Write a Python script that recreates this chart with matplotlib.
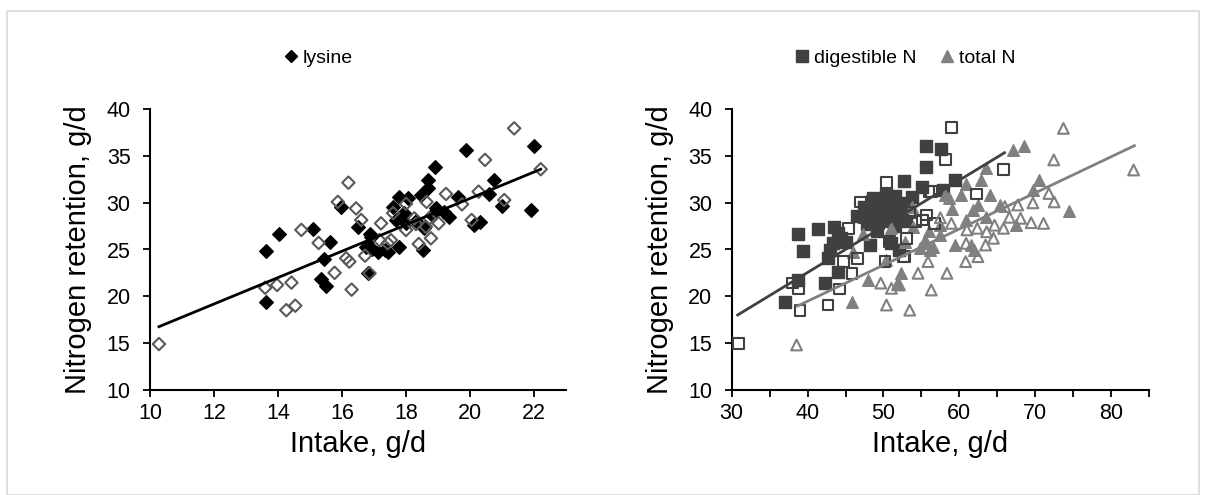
import matplotlib
matplotlib.use("Agg")
import matplotlib.pyplot as plt
from matplotlib.lines import Line2D
from matplotlib.patches import Rectangle

plt.rcParams['font.family'] = ['Liberation Sans', 'DejaVu Sans']

# ---------------- data: left panel (lysine) ----------------
lys_fill_x = [13.64, 14.02, 13.62, 15.09, 15.61, 15.45, 15.33, 15.50, 15.97, 16.50,
              16.86, 16.91, 16.75, 17.12, 17.33, 17.79, 18.52, 18.00, 18.57, 17.58,
              17.79, 18.07, 18.47, 18.68, 18.68, 18.90, 19.87, 22.00, 20.75, 20.60,
              21.00, 21.90, 19.61, 19.35, 18.94, 20.13, 17.95, 16.80, 18.30, 18.80,
              19.20, 17.70, 16.95, 17.45, 20.30]
lys_fill_y = [24.87, 26.70, 19.40, 27.16, 25.80, 23.95, 21.80, 21.10, 29.50, 27.44,
              26.70, 26.30, 25.30, 24.77, 24.95, 25.30, 24.95, 27.80, 27.27, 29.60,
              30.66, 30.50, 30.84, 32.40, 31.55, 33.80, 35.66, 36.10, 32.45, 30.95,
              29.66, 29.23, 30.66, 28.50, 29.40, 27.60, 28.90, 22.50, 28.00, 28.70,
              29.00, 28.20, 25.00, 24.70, 27.90]
lys_open_x = [10.28, 13.60, 13.97, 14.42, 14.26, 14.54, 14.73, 15.27, 15.77, 15.87,
              16.20, 16.44, 16.60, 17.22, 17.60, 18.00, 18.64, 19.25, 19.75, 20.27,
              21.07, 20.05, 21.38, 20.47, 22.21, 16.13, 16.23, 16.72, 16.86, 17.17,
              17.43, 17.53, 18.00, 18.31, 18.73, 19.02, 18.62, 18.40, 18.78, 18.26,
              16.30]
lys_open_y = [14.87, 20.90, 21.20, 21.45, 18.50, 18.98, 27.10, 25.70, 22.50, 30.10,
              32.16, 29.40, 28.16, 27.80, 28.90, 29.90, 30.10, 30.95, 29.84, 31.20,
              30.30, 28.16, 37.98, 34.60, 33.60, 24.06, 23.70, 24.34, 22.45, 26.00,
              25.66, 26.00, 27.09, 27.73, 28.34, 27.80, 27.44, 25.59, 26.20, 28.34,
              20.70]
lys_line_x = [10.28, 22.21]
lys_line_y = [16.73, 33.60]

# ---------------- data: right panel (digestible N / total N) ----------------
dig_fill_x = [55.66, 55.66, 52.67, 55.13, 53.70, 48.63, 51.50, 47.50, 38.68, 41.40,
              43.46, 39.42, 44.47, 43.37, 42.90, 42.70, 44.03, 42.30, 38.77, 37.00,
              48.20, 51.05, 52.10, 50.60, 57.63, 59.40, 57.85, 49.50, 50.00, 50.50,
              51.00, 52.00, 52.50, 49.00, 48.00, 51.50, 53.00, 47.80, 50.30, 53.20,
              49.20, 44.00, 45.00, 46.50]
dig_fill_y = [36.09, 33.80, 32.37, 31.66, 30.66, 30.48, 30.70, 29.60, 26.70, 27.16,
              27.44, 24.87, 26.20, 25.66, 24.95, 24.06, 22.60, 21.40, 21.70, 19.40,
              25.50, 25.66, 24.95, 28.50, 35.73, 32.45, 31.37, 29.00, 30.00, 29.30,
              28.00, 29.50, 28.80, 28.30, 28.90, 27.50, 28.00, 27.70, 30.90, 30.00,
              27.00, 26.80, 25.80, 28.60]
dig_open_x = [50.40, 47.00, 45.35, 46.58, 45.87, 44.25, 42.70, 39.00, 37.97, 38.77,
              30.87, 44.70, 50.20, 52.80, 50.80, 55.66, 56.30, 58.95, 58.20, 65.87,
              62.24, 56.00, 55.13, 56.75, 52.67, 53.00, 47.50, 49.30, 48.50, 51.80,
              54.20, 53.50]
dig_open_y = [32.16, 30.10, 27.27, 24.06, 22.45, 20.77, 19.05, 18.50, 21.40, 20.84,
              14.95, 23.70, 23.70, 24.23, 25.84, 28.70, 31.20, 38.05, 34.66, 33.60,
              30.95, 31.20, 28.16, 27.80, 24.23, 26.20, 28.40, 27.80, 30.20, 29.30,
              28.00, 29.00]
tot_fill_x = [67.05, 68.50, 63.46, 62.90, 60.83, 60.17, 58.70, 58.07, 64.07, 65.30,
              70.47, 69.70, 74.40, 67.50, 61.80, 63.55, 60.90, 57.40, 57.40, 55.43,
              54.78, 56.10, 59.40, 61.60, 62.00, 52.37, 51.80, 51.05, 47.30, 46.00,
              50.40, 52.80, 53.90, 53.70, 48.00, 45.80, 55.43, 56.50, 59.00, 62.50,
              56.00]
tot_fill_y = [35.66, 36.09, 33.70, 32.45, 32.00, 30.84, 30.50, 30.84, 30.84, 29.77,
              32.45, 31.37, 29.16, 27.60, 29.23, 28.50, 28.16, 27.60, 26.55, 26.00,
              25.13, 24.95, 25.48, 25.48, 24.95, 22.45, 21.30, 27.27, 26.70, 24.77,
              23.87, 25.84, 27.44, 29.60, 21.70, 19.40, 25.66, 25.30, 29.30, 29.80,
              27.00]
tot_open_x = [38.55, 50.40, 53.46, 49.64, 51.05, 54.56, 56.30, 55.87, 73.72, 72.45,
              71.80, 72.50, 69.70, 67.70, 71.10, 69.47, 68.07, 66.60, 65.83, 64.64,
              63.60, 64.50, 63.46, 62.37, 58.95, 62.45, 60.83, 60.90, 58.37, 82.97,
              52.10, 61.00, 57.50, 66.00]
tot_open_y = [14.77, 19.05, 18.50, 21.40, 20.84, 22.45, 20.66, 23.70, 37.98, 34.60,
              31.00, 30.10, 30.00, 29.77, 27.80, 27.87, 28.34, 28.45, 27.27, 27.60,
              26.90, 26.20, 25.48, 27.27, 27.80, 24.23, 23.70, 25.66, 22.45, 33.52,
              21.20, 27.10, 28.40, 29.60]
dig_line_x = [30.78, 65.96]
dig_line_y = [17.98, 35.37]
tot_line_x = [38.68, 83.07]
tot_line_y = [18.95, 36.12]

left_xticks = [10, 12, 14, 16, 18, 20, 22]
right_xticks = [30, 35, 40, 45, 50, 55, 60, 65, 70, 75, 80, 85]
right_xlabels = ['30', '', '40', '', '50', '', '60', '', '70', '', '80', '']
yticks = [10, 15, 20, 25, 30, 35, 40]

BLACK = '#000000'
DARK = '#404040'
GRAY = '#808080'
OPEN_D = '#595959'

W, H = 1205, 495
fig = plt.figure(figsize=(W / 100, H / 100), dpi=100)

# outer chart border
fig.patches.append(Rectangle((7 / W, 0), (W - 13) / W, (H - 11) / H,
                             transform=fig.transFigure, fill=False,
                             edgecolor='#d9d9d9', linewidth=1.2))

def px_axes(x0, x1, y_top, y_bot):
    return fig.add_axes([x0 / W, 1 - y_bot / H, (x1 - x0) / W, (y_bot - y_top) / H])

ax1 = px_axes(150, 566, 109.5, 389.5)
ax2 = px_axes(731.7, 1149, 109.5, 389.5)

for ax in (ax1, ax2):
    for s in ('top', 'right'):
        ax.spines[s].set_visible(False)
    for s in ('left', 'bottom'):
        ax.spines[s].set_linewidth(1.5)
    ax.tick_params(direction='out', length=5, width=1.3, labelsize=15.5)
    ax.tick_params(axis='x', pad=5)
    ax.tick_params(axis='y', pad=9)
    ax.set_ylim(10, 40)
    ax.set_yticks(yticks)
    yl = ax.set_ylabel('Nitrogen retention, g/d', fontsize=21)
    yl.set_verticalalignment('center')
    xl = ax.set_xlabel('Intake, g/d', fontsize=21)
    xl.set_verticalalignment('center')
    bb = ax.get_position()
    ax.yaxis.set_label_coords(-72 / (bb.width * W), 0.5)
    ax.xaxis.set_label_coords(0.5, -54 / (bb.height * H))

# left panel
ax1.set_xlim(10, 23)
ax1.set_xticks(left_xticks)
ax1.scatter(lys_fill_x, lys_fill_y, marker='D', s=48, color=BLACK, zorder=3)
ax1.scatter(lys_open_x, lys_open_y, marker='D', s=40, facecolors='none',
            edgecolors=OPEN_D, linewidths=1.5, zorder=4)
ax1.plot(lys_line_x, lys_line_y, color=BLACK, linewidth=2.0, zorder=5)

# right panel
ax2.set_xlim(30, 85)
ax2.set_xticks(right_xticks)
ax2.set_xticklabels(right_xlabels)
ax2.scatter(dig_fill_x, dig_fill_y, marker='s', s=70, color=DARK, zorder=3)
ax2.scatter(dig_open_x, dig_open_y, marker='s', s=60, facecolors='none',
            edgecolors=DARK, linewidths=1.5, zorder=4)
ax2.scatter(tot_fill_x, tot_fill_y, marker='^', s=70, color=GRAY, zorder=3)
ax2.scatter(tot_open_x, tot_open_y, marker='^', s=60, facecolors='none',
            edgecolors=GRAY, linewidths=1.5, zorder=4)
ax2.plot(dig_line_x, dig_line_y, color=DARK, linewidth=2.0, zorder=5)
ax2.plot(tot_line_x, tot_line_y, color=GRAY, linewidth=2.0, zorder=5)

# legends
h1 = [Line2D([], [], linestyle='none', marker='D', color=BLACK, markersize=6)]
fig.legend(h1, ['lysine'], loc='center', bbox_to_anchor=(318 / W, 1 - 58 / H),
           frameon=False, fontsize=14, handlelength=0.8, handletextpad=0.2)
h2 = [Line2D([], [], linestyle='none', marker='s', color=DARK, markersize=8),
      Line2D([], [], linestyle='none', marker='^', color=GRAY, markersize=8)]
fig.legend(h2, ['digestible N', 'total N'], loc='center', ncol=2,
           bbox_to_anchor=(905 / W, 1 - 58 / H), frameon=False, fontsize=14,
           handlelength=0.8, handletextpad=0.2, columnspacing=1.2)

fig.savefig('out.png', dpi=100)
